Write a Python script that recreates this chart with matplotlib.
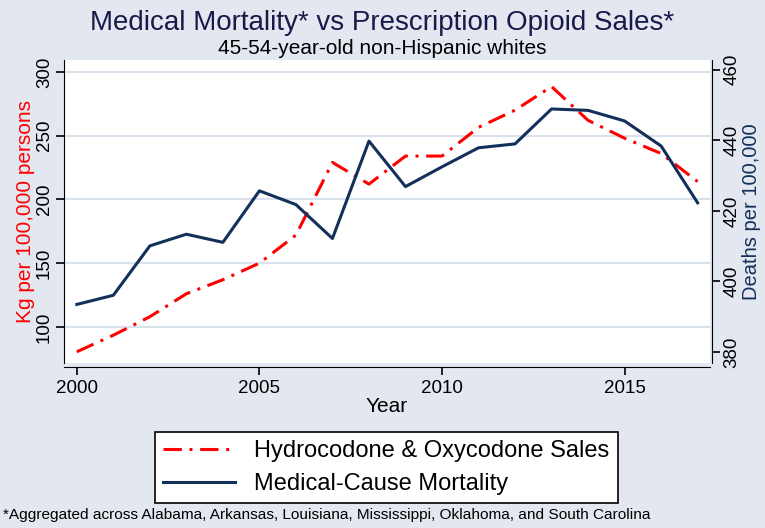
import matplotlib
matplotlib.use('Agg')
import matplotlib.pyplot as plt

plt.rcParams['font.family'] = ['Liberation Sans', 'DejaVu Sans']

# data
years = list(range(2000, 2018))
sales = [80.5, 93.5, 108, 126, 137, 150, 172, 229, 212, 234,
         234, 256.5, 270, 288.5, 262, 248, 236, 214]
mortality = [393.5, 396.1, 410.1, 413.4, 411.1, 425.7, 421.8, 412.2, 439.8, 426.9,
             432.5, 437.9, 439.0, 448.9, 448.5, 445.5, 438.4, 422.3]

left_ticks = [100, 150, 200, 250, 300]
right_ticks = [380, 400, 420, 440, 460]
x_ticks = [2000, 2005, 2010, 2015]

bg = '#e3e7f0'
navy = '#13305a'
red = '#ff0000'
grid_col = '#d9e1ec'

fig = plt.figure(figsize=(7.65, 5.28), dpi=100, facecolor=bg)
ax = fig.add_axes([0.0837, 0.3125, 0.844, 0.574])
ax.set_facecolor('white')

l1, = ax.plot(years, sales, color=red, lw=2.2, dashes=(6, 2.5, 1, 2.5),
              label='Hydrocodone & Oxycodone Sales')
ax.set_xlim(1999.65, 2017.33)
ax.set_ylim(71.7, 309.4)
ax.set_yticks(left_ticks)
ax.set_xticks(x_ticks)
ax.yaxis.grid(True, color=grid_col, lw=1.5)
ax.set_axisbelow(True)
for s in ['top', 'right']:
    ax.spines[s].set_visible(False)
ax.spines['bottom'].set_position(('outward', 3))
ax.tick_params(axis='both', labelsize=13.5, length=6, width=1.2, direction='out')
ax.tick_params(axis='y', pad=2)
for lab in ax.get_yticklabels():
    lab.set_rotation(90)
    lab.set_va('center')
ax.set_ylabel('Kg per 100,000 persons', color=red, fontsize=15, labelpad=1)
ax.set_xlabel('Year', fontsize=15, labelpad=0)

ax2 = ax.twinx()
l2, = ax2.plot(years, mortality, color=navy, lw=2.2, label='Medical-Cause Mortality')
ax2.set_ylim(376.9, 462.8)
ax2.set_yticks(right_ticks)
for s in ['top', 'left', 'bottom']:
    ax2.spines[s].set_visible(False)
ax2.spines['right'].set_position(('outward', 2))
ax2.tick_params(axis='y', labelsize=13.5, length=6, width=1.2, direction='out', pad=2)
for lab in ax2.get_yticklabels():
    lab.set_rotation(90)
    lab.set_va('center')
ax2.set_ylabel('Deaths per 100,000', color=navy, fontsize=14.5, labelpad=1)

fig.text(0.5, 0.956, 'Medical Mortality* vs Prescription Opioid Sales*',
         ha='center', va='center', fontsize=20, color='#1a1a4a')
fig.text(0.5, 0.908, '45-54-year-old non-Hispanic whites',
         ha='center', va='center', fontsize=15)

leg = fig.legend([l1, l2], [l1.get_label(), l2.get_label()],
                 loc='center', bbox_to_anchor=(0.505, 0.1146), fontsize=17,
                 frameon=True, fancybox=False, edgecolor='black', framealpha=1,
                 handlelength=3.05, borderpad=0.35, labelspacing=0.45)
leg.get_frame().set_linewidth(1.2)

fig.text(0.004, 0.025, '*Aggregated across Alabama, Arkansas, Louisiana, Mississippi, '
         'Oklahoma, and South Carolina', ha='left', va='center', fontsize=11.1)

fig.savefig('out.png', dpi=100, facecolor=bg)
